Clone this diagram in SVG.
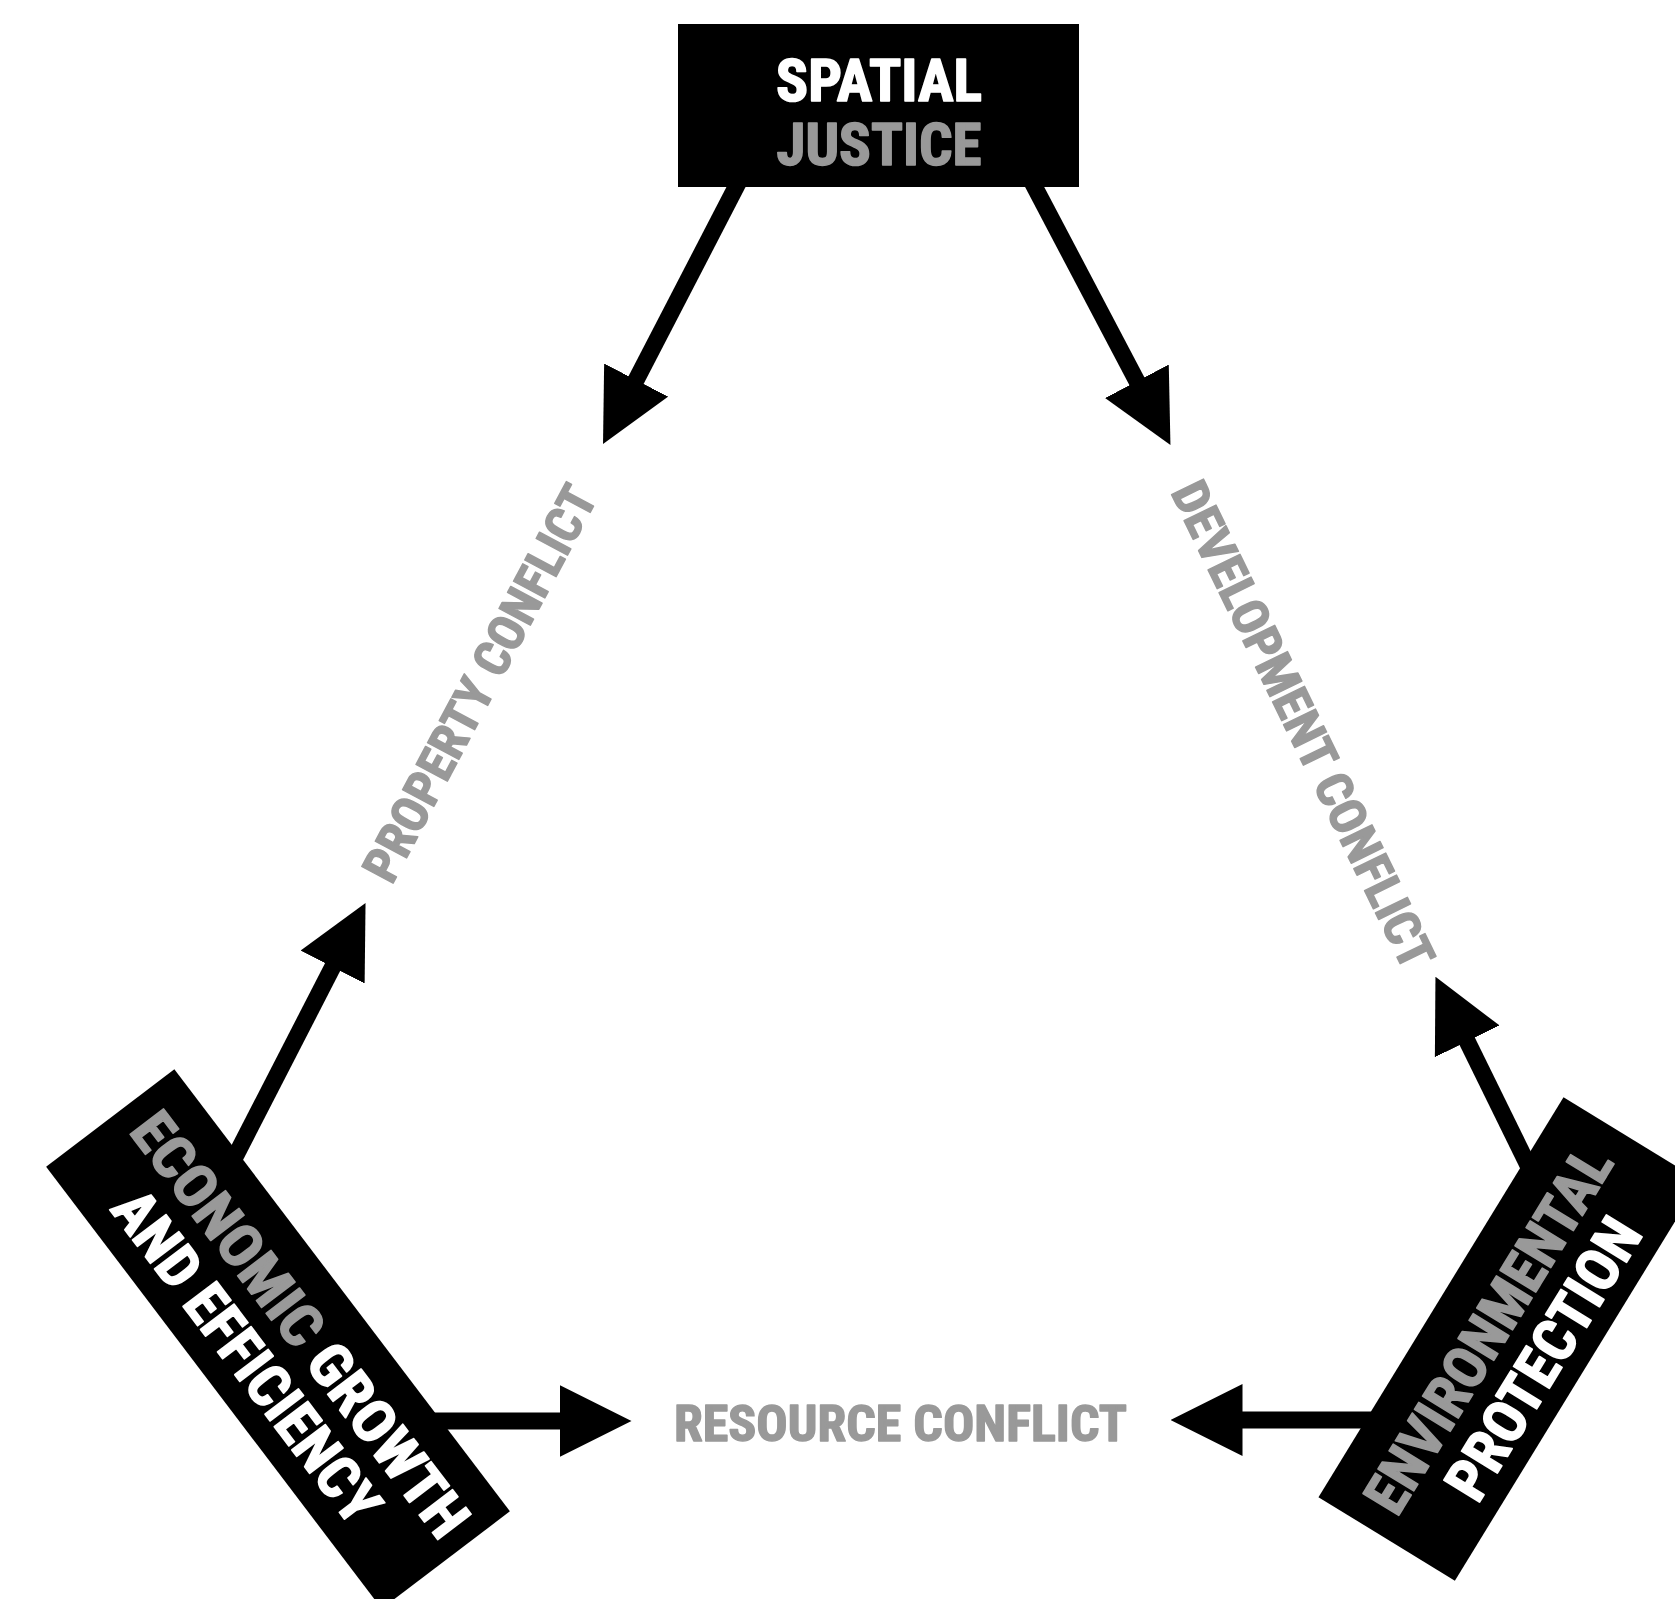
<svg xmlns="http://www.w3.org/2000/svg" width="1675" height="1599" viewBox="0 0 1675 1599">
<style>
.box{fill:#000}
.bt{font-family:"Liberation Sans Narrow","Roboto Condensed","Arial Narrow","Liberation Sans",sans-serif;font-weight:700;font-size:59px;text-anchor:middle;stroke-width:1.6px;stroke-linejoin:round}
.lbl{font-family:"Liberation Sans Narrow","Roboto Condensed","Arial Narrow","Liberation Sans",sans-serif;font-weight:700;font-size:50px;text-anchor:middle;fill:#999999;stroke:#999999;stroke-width:1.4px;stroke-linejoin:round}
.w{fill:#ffffff;stroke:#ffffff}
.g{fill:#999999;stroke:#999999}
.conn{stroke:#000;stroke-width:17;fill:none;marker-end:url(#ah)}
</style>
<defs>
<marker id="ah" viewBox="0 0 72 72" markerWidth="72" markerHeight="72" markerUnits="userSpaceOnUse" refX="12" refY="36" orient="auto">
<path d="M0,0 L72,36 L0,72 Z" fill="#000"/>
</marker>
</defs>
<rect width="1675" height="1599" fill="#ffffff"/>
<g id="connectors">
<line class="conn" x1="739.7" y1="179.9" x2="630.6" y2="390.7"/>
<line class="conn" x1="1030.9" y1="179.9" x2="1142.5" y2="391.9"/>
<line class="conn" x1="228.9" y1="1168.8" x2="338.1" y2="956.4"/>
<line class="conn" x1="1532.8" y1="1175" x2="1461.9" y2="1030.6"/>
<line class="conn" x1="400" y1="1421" x2="571.5" y2="1421"/>
<line class="conn" x1="1420" y1="1420" x2="1230.5" y2="1420"/>
</g>
<g id="spatial-justice">
<rect class="box" x="678" y="24" width="401" height="163"/>
<text class="bt w" x="879" y="101" textLength="206" lengthAdjust="spacingAndGlyphs">SPATIAL</text>
<text class="bt g" x="879" y="165" textLength="205" lengthAdjust="spacingAndGlyphs">JUSTICE</text>
</g>
<g id="economic-growth" transform="translate(278,1339) rotate(52.8)">
<rect class="box" x="-277.5" y="-80.5" width="555" height="161"/>
<text class="bt" x="2" y="-6" textLength="516" lengthAdjust="spacingAndGlyphs"><tspan class="g">ECONOMIC</tspan><tspan class="w"> GROWTH</tspan></text>
<text class="bt w" x="-5" y="56" textLength="401" lengthAdjust="spacingAndGlyphs">AND EFFICIENCY</text>
</g>
<g id="environmental-protection" transform="translate(1509.2,1339) rotate(-58.5)">
<rect class="box" x="-234.5" y="-80" width="469" height="160"/>
<text class="bt g" x="-3" y="-2" textLength="417" lengthAdjust="spacingAndGlyphs">ENVIRONMENTAL</text>
<text class="bt w" x="1" y="60" textLength="318" lengthAdjust="spacingAndGlyphs">PROTECTION</text>
</g>
<g id="property-conflict">
<text class="lbl" transform="translate(495,691.5) rotate(-62)" x="0" y="0" textLength="440" lengthAdjust="spacingAndGlyphs">PROPERTY CONFLICT</text>
</g>
<g id="development-conflict">
<text class="lbl" transform="translate(1287.4,732.5) rotate(64)" x="0" y="0" textLength="535" lengthAdjust="spacingAndGlyphs">DEVELOPMENT CONFLICT</text>
</g>
<g id="resource-conflict">
<text class="lbl" x="900.5" y="1441" textLength="453" lengthAdjust="spacingAndGlyphs">RESOURCE CONFLICT</text>
</g>
</svg>
